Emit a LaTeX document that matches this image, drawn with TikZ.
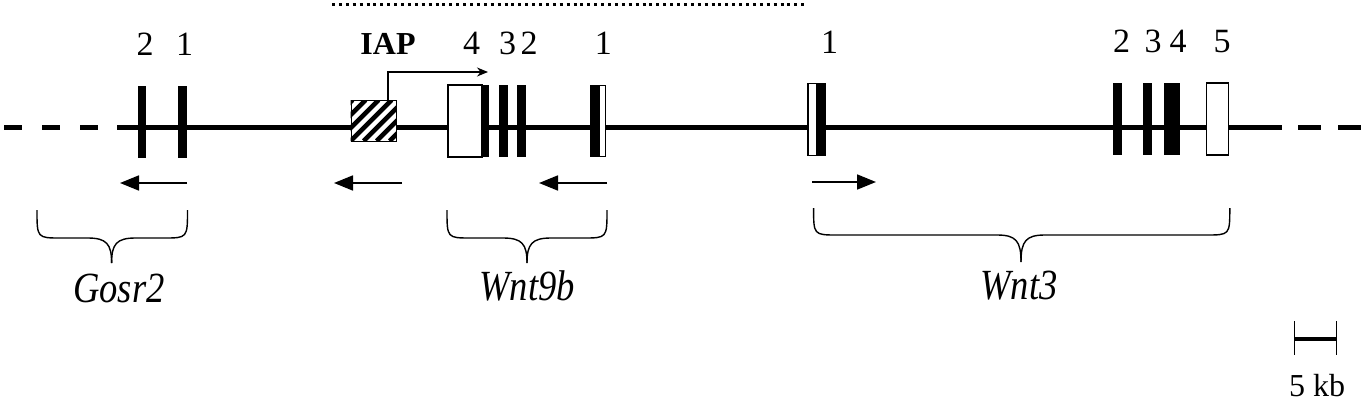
\documentclass[tikz,border=0pt]{standalone}
\usepackage{fontspec}
\setmainfont{Liberation Serif}
\newfontfamily\geneit[FakeStretch=0.85]{Liberation Serif}
\usetikzlibrary{arrows.meta}
\begin{document}
\begin{tikzpicture}[x=1pt,y=-1pt,
  chrom/.style={line width=5pt},
  chromdash/.style={line width=5pt,dash pattern=on 17.5pt off 20.5pt},
  exon/.style={fill=black},
  utr/.style={fill=white,draw=black,line width=1.3pt},
  dir/.style={line width=1.8pt,-{Triangle[length=19pt,width=15pt]}},
  gbrace/.style={line width=1.4pt},
  num/.style={font=\fontsize{34}{36}\selectfont,anchor=base,inner sep=0pt},
  iaplab/.style={font=\bfseries\fontsize{32}{34}\selectfont,anchor=base,inner sep=0pt},
  gene/.style={font=\geneit\itshape\fontsize{43}{46}\selectfont,anchor=base,inner sep=0pt},
  scalelab/.style={font=\fontsize{32}{34}\selectfont,anchor=base,inner sep=0pt}]
\useasboundingbox (0,0) rectangle (1367,404);

% dotted region line
\coordinate (dotL) at (332,5);
\coordinate (dotR) at (808,5);
\draw[line width=3pt,dash pattern=on 3pt off 3.9pt] (dotL) -- (dotR);

% chromosome line
\coordinate (cA) at (4,127);
\coordinate (cB) at (117,127);
\coordinate (cC) at (1281.7,127);
\coordinate (cD) at (1298,127);
\coordinate (cE) at (1367,127);
\draw[chromdash] (cA) -- (cB);
\draw[chrom] (cB) -- (cC);
\draw[chromdash,dash pattern=on 23pt off 17pt] (cD) -- (cE);

% Gosr2 exons
\fill[exon] (138,86) rectangle (146,158);
\fill[exon] (178,86) rectangle (187,158);

% IAP box (hatched)
\begin{scope}
  \clip (350.6,100) rectangle (396,141);
  \fill[white] (350.6,100) rectangle (396,141);
  \foreach \k in {-4,...,4}
    \draw[line width=4.5pt] (350.6+\k*13,141) -- ++(41,-41);
\end{scope}
\node[draw,line width=1.3pt,minimum width=45.4pt,minimum height=41pt,inner sep=0pt,anchor=north west] (iap) at (350.6,100) {};

% IAP transcription arrow
\coordinate (tss) at (388,100);
\coordinate (tssend) at (488,72);
\draw[line width=1.2pt,-{Stealth[length=11pt,width=9pt]}] (tss) |- (tssend);

% Wnt9b exons
\filldraw[utr] (448,85) rectangle (482,157);
\fill[exon] (482,85) rectangle (489.3,157);
\fill[exon] (499,85) rectangle (507.7,157);
\fill[exon] (516.7,85) rectangle (525.7,157);
\fill[exon] (590,85) rectangle (599,157);
\filldraw[utr] (599,85.6) rectangle (605.7,156.4);

% Wnt3 exons
\filldraw[utr] (808,83.6) rectangle (817,155.4);
\fill[exon] (817,83) rectangle (826,156);
\fill[exon] (1113,83) rectangle (1122,155);
\fill[exon] (1143,83) rectangle (1152,155);
\fill[exon] (1164,83) rectangle (1180,155);
\filldraw[utr] (1206.7,83) rectangle (1228.3,155);

% exon numbers
\node[num] (g2) at (145.2,55.5) {2};
\node[num] (g1) at (184.6,55.5) {1};
\node[iaplab] (iaplabel) at (388,54.5) {IAP};
\node[num] (w94) at (471.7,54.5) {4};
\node[num] (w93) at (507.7,54.5) {3};
\node[num] (w92) at (529,54.5) {2};
\node[num] (w91) at (603.3,54.5) {1};
\node[num] (w31) at (829.7,53.3) {1};
\node[num] (w32) at (1121.7,52.5) {2};
\node[num] (w33) at (1153,52.5) {3};
\node[num] (w34) at (1178,52.5) {4};
\node[num] (w35) at (1222,52.5) {5};

% direction arrows
\coordinate (a1s) at (187,183); \coordinate (a1e) at (120,183);
\coordinate (a2s) at (402,183); \coordinate (a2e) at (334,183);
\coordinate (a3s) at (607,183); \coordinate (a3e) at (539,183);
\coordinate (a4s) at (812,182); \coordinate (a4e) at (876,182);
\draw[dir] (a1s) -- (a1e);
\draw[dir] (a2s) -- (a2e);
\draw[dir] (a3s) -- (a3e);
\draw[dir] (a4s) -- (a4e);

% braces
\newcommand\genebrace[6]{%
  \draw[gbrace] (#1,#4) .. controls (#1,#5) and (#1,#5) .. ({#1+24},#5) -- ({#3-24},#5)
     .. controls ({#3-5},#5) and (#3,{#5+6}) .. (#3,#6);
  \draw[gbrace] (#2,#4) .. controls (#2,#5) and (#2,#5) .. ({#2-24},#5) -- ({#3+24},#5)
     .. controls ({#3+5},#5) and (#3,{#5+6}) .. (#3,#6);
}
\genebrace{37}{187.5}{111.6}{210}{238}{263}
\genebrace{447}{607}{527}{210}{238}{263}
\genebrace{813.6}{1229.8}{1021}{208}{235}{262}

% gene names
\node[gene] (gosr2) at (119,302) {Gosr2};
\node[gene] (wnt9b) at (527,300) {Wnt9b};
\node[gene] (wnt3) at (1019,299) {Wnt3};

% scale bar
\coordinate (sbL) at (1294.5,339);
\coordinate (sbR) at (1336.5,339);
\draw[line width=4pt] (sbL) -- (sbR);
\draw[line width=1.5pt] (1294.5,321) -- (1294.5,355);
\draw[line width=1.5pt] (1336.5,321) -- (1336.5,355);
\node[scalelab] (kb) at (1317,396) {5 kb};
\end{tikzpicture}
\end{document}
